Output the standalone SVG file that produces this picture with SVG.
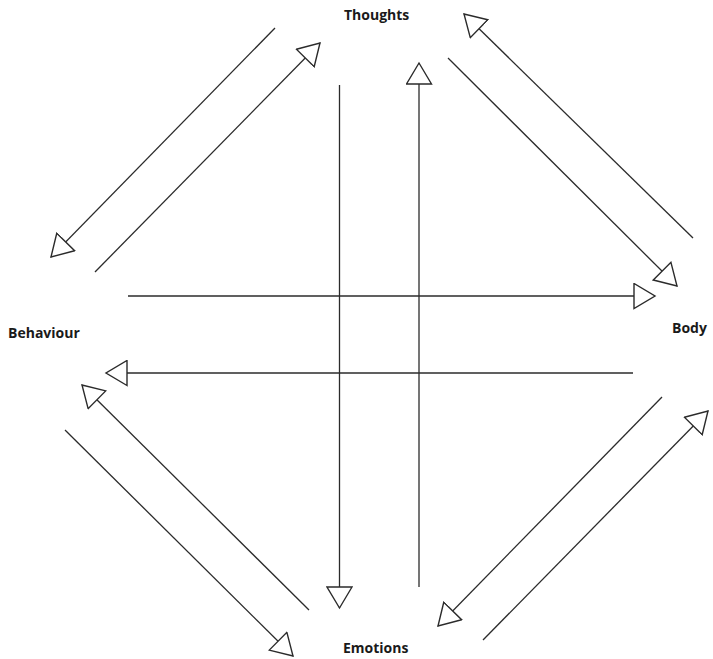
<svg xmlns="http://www.w3.org/2000/svg" width="713" height="659" viewBox="0 0 713 659">
  <style>
    .lbl { font-family: "Open Sans", "Liberation Sans", sans-serif; font-weight: bold; font-size: 14px; fill: #1a1a1a; }
    .conn { stroke: #2b2b2b; stroke-width: 1.3; fill: none; marker-end: url(#open); }
    .plain { stroke: #2b2b2b; stroke-width: 1.3; fill: none; }
  </style>
  <defs>
    <marker id="open" markerUnits="userSpaceOnUse" viewBox="-1 -1 24 27" markerWidth="24" markerHeight="27" refX="21" refY="12.5" orient="auto">
      <path d="M0,0 L21,12.5 L0,25 Z" fill="#ffffff" stroke="#2b2b2b" stroke-width="1.4" stroke-linejoin="miter"/>
    </marker>
  </defs>
  <rect width="713" height="659" fill="#ffffff"/>
  <g id="thoughts"><text class="lbl" x="344" y="20">Thoughts</text></g>
  <g id="behaviour"><text class="lbl" x="8" y="338">Behaviour</text></g>
  <g id="body"><text class="lbl" x="672" y="333">Body</text></g>
  <g id="emotions"><text class="lbl" x="343" y="653">Emotions</text></g>
  <g id="connectors">
    <line class="conn" x1="275" y1="28" x2="51" y2="257"/>
    <line class="conn" x1="95" y1="272" x2="320" y2="43"/>
    <line class="conn" x1="693" y1="238" x2="464" y2="14"/>
    <line class="conn" x1="448" y1="58" x2="677" y2="286"/>
    <line class="conn" x1="309" y1="610" x2="82" y2="385"/>
    <line class="conn" x1="65" y1="430" x2="293" y2="656"/>
    <line class="conn" x1="662" y1="397" x2="438" y2="626"/>
    <line class="conn" x1="483" y1="640" x2="708" y2="411"/>
    <line class="conn" x1="339.5" y1="85" x2="339.5" y2="608"/>
    <line class="conn" x1="419" y1="587" x2="419" y2="63"/>
    <line class="conn" x1="128" y1="296" x2="655" y2="296"/>
    <line class="conn" x1="633" y1="373" x2="106" y2="373"/>
  </g>
</svg>
